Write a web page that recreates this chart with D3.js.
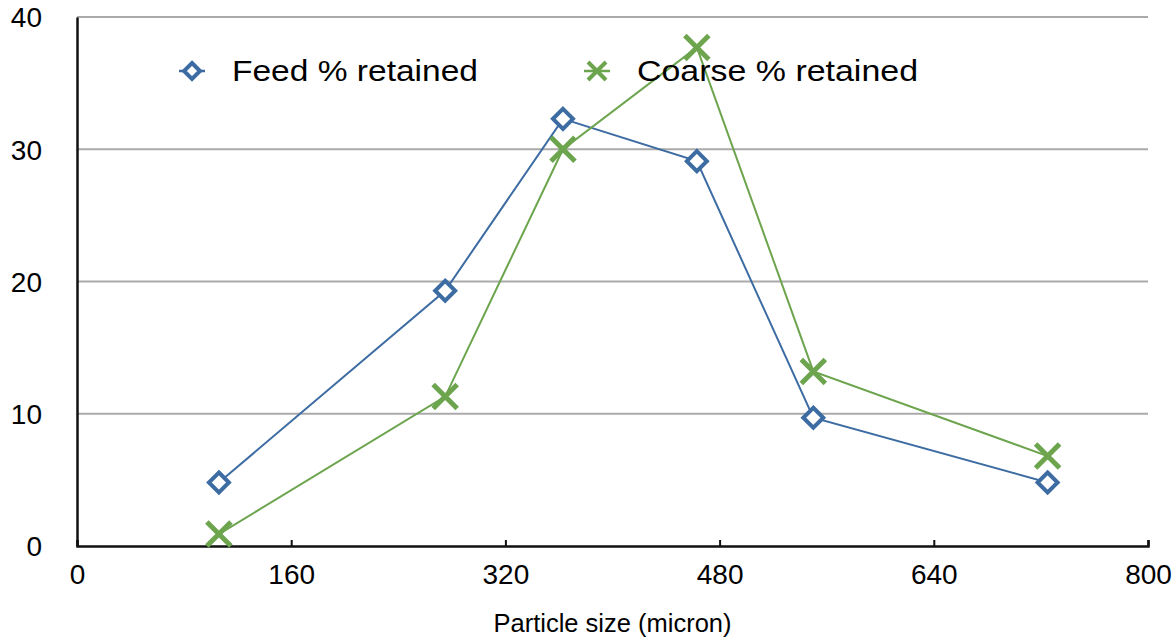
<!DOCTYPE html>
<html>
<head>
<meta charset="utf-8">
<script src="https://cdn.jsdelivr.net/npm/d3@7"></script>
<style>
  body { margin: 0; background: #fff; }
  text { font-family: "Liberation Sans", Arial, Helvetica, sans-serif; fill: #000; }
</style>
</head>
<body>
<script>
const sizes = [106, 275, 363, 463, 550, 725];
const feedRetained = [4.8, 19.3, 32.3, 29.1, 9.7, 4.8];
const coarseRetained = [0.9, 11.3, 30.0, 37.7, 13.2, 6.8];
const xTicks = [0, 160, 320, 480, 640, 800];
const yTicks = [0, 10, 20, 30, 40];
const seriesNames = ["Feed % retained", "Coarse % retained"];

function init() {
    var w = 1176;
    var h = 640;
    var left = 77, right = 1148, top = 17, bottom = 546;
    var blue = "#3d6ca3";
    var green = "#6da54f";

    var svg = d3.select("body")
        .append("svg")
        .attr("width", w)
        .attr("height", h);

    var x = d3.scaleLinear().domain([0, 800]).range([left, right]);
    var y = d3.scaleLinear().domain([0, 40]).range([bottom, top]);

    // gridlines
    svg.selectAll("line.grid")
        .data(yTicks.filter(d => d > 0))
        .enter()
        .append("line")
        .attr("class", "grid")
        .attr("x1", left).attr("x2", right)
        .attr("y1", d => y(d)).attr("y2", d => y(d))
        .attr("stroke", "#aaa")
        .attr("stroke-width", 2);

    // y axis
    var yAxis = svg.append("g")
        .attr("transform", "translate(" + left + ",0)")
        .call(d3.axisLeft(y).tickValues(yTicks).tickSize(0).tickPadding(35));
    yAxis.select(".domain").attr("stroke", "#111").attr("stroke-width", 2.5);
    yAxis.selectAll("text").style("font-size", "28px").attr("dy", "0.35em");

    // x axis
    var xAxis = svg.append("g")
        .attr("transform", "translate(0," + bottom + ")")
        .call(d3.axisBottom(x).tickValues(xTicks).tickSize(-6).tickPadding(17));
    xAxis.select(".domain").attr("stroke", "#111").attr("stroke-width", 2.5);
    xAxis.selectAll(".tick line").attr("stroke", "#111").attr("stroke-width", 2);
    xAxis.selectAll("text").style("font-size", "28px").attr("dy", "0.75em");

    svg.append("text")
        .attr("x", (left + right) / 2)
        .attr("y", 632)
        .attr("text-anchor", "middle")
        .attr("textLength", 238)
        .attr("lengthAdjust", "spacingAndGlyphs")
        .style("font-size", "25px")
        .text("Particle size (micron)");

    var line = d3.line()
        .x(d => x(d[0]))
        .y(d => y(d[1]));

    var feed = sizes.map((s, i) => [s, feedRetained[i]]);
    var coarse = sizes.map((s, i) => [s, coarseRetained[i]]);

    function diamond(g, r, sw) {
        g.append("path")
            .attr("d", "M0," + (-r) + "L" + r + ",0L0," + r + "L" + (-r) + ",0Z")
            .attr("fill", "#fff")
            .attr("stroke", blue)
            .attr("stroke-width", sw);
    }
    function cross(g, r, sw) {
        g.append("path")
            .attr("d", "M" + (-r) + "," + (-r) + "L" + r + "," + r + "M" + (-r) + "," + r + "L" + r + "," + (-r))
            .attr("stroke", green)
            .attr("stroke-width", sw)
            .attr("fill", "none");
    }

    svg.append("path")
        .datum(feed)
        .attr("d", line)
        .attr("fill", "none")
        .attr("stroke", blue)
        .attr("stroke-width", 2);

    svg.append("path")
        .datum(coarse)
        .attr("d", line)
        .attr("fill", "none")
        .attr("stroke", green)
        .attr("stroke-width", 2);

    svg.selectAll("g.feedpt")
        .data(feed)
        .enter()
        .append("g")
        .attr("class", "feedpt")
        .attr("transform", d => "translate(" + x(d[0]) + "," + y(d[1]) + ")")
        .each(function() { diamond(d3.select(this), 10, 4); });

    svg.selectAll("g.coarsept")
        .data(coarse)
        .enter()
        .append("g")
        .attr("class", "coarsept")
        .attr("transform", d => "translate(" + x(d[0]) + "," + y(d[1]) + ")")
        .each(function() { cross(d3.select(this), 12, 5); });

    // legend
    var legendX = [192, 597];
    var legendLen = [246, 281];
    var leg = svg.selectAll("g.legend")
        .data(seriesNames)
        .enter()
        .append("g")
        .attr("class", "legend")
        .attr("transform", (d, i) => "translate(" + legendX[i] + ",71)");

    leg.append("line")
        .attr("x1", -13).attr("x2", 13)
        .attr("stroke", (d, i) => i === 0 ? blue : green)
        .attr("stroke-width", 2.5);
    leg.each(function(d, i) {
        if (i === 0) diamond(d3.select(this), 8, 4);
        else cross(d3.select(this), 9, 4);
    });
    leg.append("text")
        .attr("x", 40)
        .attr("dy", "0.34em")
        .attr("textLength", (d, i) => legendLen[i])
        .attr("lengthAdjust", "spacingAndGlyphs")
        .style("font-size", "30px")
        .text(d => d);
}
window.onload = init;
</script>
</body>
</html>
